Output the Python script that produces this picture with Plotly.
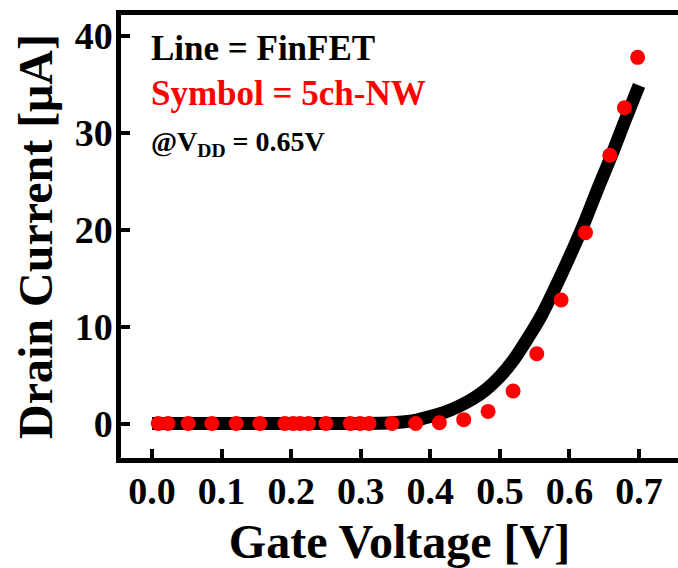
import plotly.graph_objects as go

# FinFET (line) data
vg_line = [0.00, 0.05, 0.10, 0.15, 0.20, 0.25, 0.30, 0.34, 0.36, 0.38, 0.40, 0.42, 0.44,
           0.46, 0.48, 0.50, 0.52, 0.54, 0.56, 0.58, 0.60, 0.62, 0.64, 0.66, 0.68, 0.70]
id_line = [0.0, 0.0, 0.0, 0.0, 0.0, 0.0, 0.01, 0.05, 0.15, 0.35, 0.72, 1.15, 1.75,
           2.5, 3.5, 4.85, 6.6, 8.8, 11.2, 14.1, 17.2, 20.5, 24.1, 27.6, 31.3, 34.9]

# 5ch-NW (symbol) data
vg_nw = [0.009, 0.023, 0.052, 0.086, 0.121, 0.155, 0.191, 0.203, 0.213, 0.225, 0.250,
         0.285, 0.299, 0.312, 0.345, 0.379, 0.413, 0.448, 0.483, 0.519, 0.553, 0.588,
         0.623, 0.658, 0.679, 0.698]
id_nw = [0.0, 0.0, 0.0, 0.0, 0.0, 0.0, 0.0, 0.0, 0.0, 0.0, 0.0,
         0.0, 0.0, 0.0, 0.0, 0.0, 0.08, 0.4, 1.25, 3.35, 7.2, 12.75,
         19.7, 27.7, 32.6, 37.8]

x_ticks = [0.0, 0.1, 0.2, 0.3, 0.4, 0.5, 0.6, 0.7]
x_tick_labels = ["0.0", "0.1", "0.2", "0.3", "0.4", "0.5", "0.6", "0.7"]
y_ticks = [0, 10, 20, 30, 40]
y_tick_labels = ["0", "10", "20", "30", "40"]

FONT = "Liberation Serif"

fig = go.Figure()
fig.add_trace(go.Scatter(x=vg_line, y=id_line, mode="lines",
                         line=dict(color="black", width=13, shape="spline"),
                         showlegend=False))
fig.add_trace(go.Scatter(x=vg_nw, y=id_nw, mode="markers",
                         marker=dict(color="#FF0000", size=15, line=dict(width=0)),
                         showlegend=False))

fig.update_layout(
    width=678, height=568,
    margin=dict(l=121, r=0, t=15, b=110),
    paper_bgcolor="white", plot_bgcolor="white",
    font=dict(family=FONT, color="black", weight="bold"),
    xaxis=dict(range=[-0.0446, 0.756], tickvals=x_ticks, ticktext=x_tick_labels,
               showgrid=False, zeroline=False, showline=True, linewidth=4.5,
               linecolor="black", mirror=True, ticks="inside", ticklen=9,
               tickwidth=4, tickcolor="black", automargin=False,
               ticklabelstandoff=-4,
               tickfont=dict(family=FONT, size=38, weight="bold"),
               title=dict(text="Gate Voltage [V]",
                          font=dict(family=FONT, size=48, weight="bold"),
                          standoff=18)),
    yaxis=dict(range=[-3.56, 42.17], tickvals=y_ticks, ticktext=y_tick_labels,
               showgrid=False, zeroline=False, showline=True, linewidth=4.5,
               linecolor="black", mirror=False, ticks="inside", ticklen=9,
               tickwidth=4, tickcolor="black", automargin=False,
               ticklabelstandoff=-4,
               tickfont=dict(family=FONT, size=38, weight="bold"),
               title=dict(text="Drain Current [μA]",
                          font=dict(family=FONT, size=48, weight="bold"),
                          standoff=8)),
)

fig.add_annotation(xref="paper", yref="paper", x=0.050, y=0.924,
                   xanchor="left", yanchor="middle", showarrow=False,
                   text="Line = FinFET",
                   font=dict(family=FONT, size=35, color="black", weight="bold"))
fig.add_annotation(xref="paper", yref="paper", x=0.050, y=0.823,
                   xanchor="left", yanchor="middle", showarrow=False,
                   text="Symbol = 5ch-NW",
                   font=dict(family=FONT, size=35, color="#FF0000", weight="bold"))
fig.add_annotation(xref="paper", yref="paper", x=0.050, y=0.711,
                   xanchor="left", yanchor="middle", showarrow=False,
                   text="@V<sub>DD</sub> = 0.65V",
                   font=dict(family=FONT, size=28, color="black", weight="bold"))

fig.write_html("out.html",
               config={"displayModeBar": False},
               post_script="document.body.style.margin='0';document.body.style.overflow='hidden';")
